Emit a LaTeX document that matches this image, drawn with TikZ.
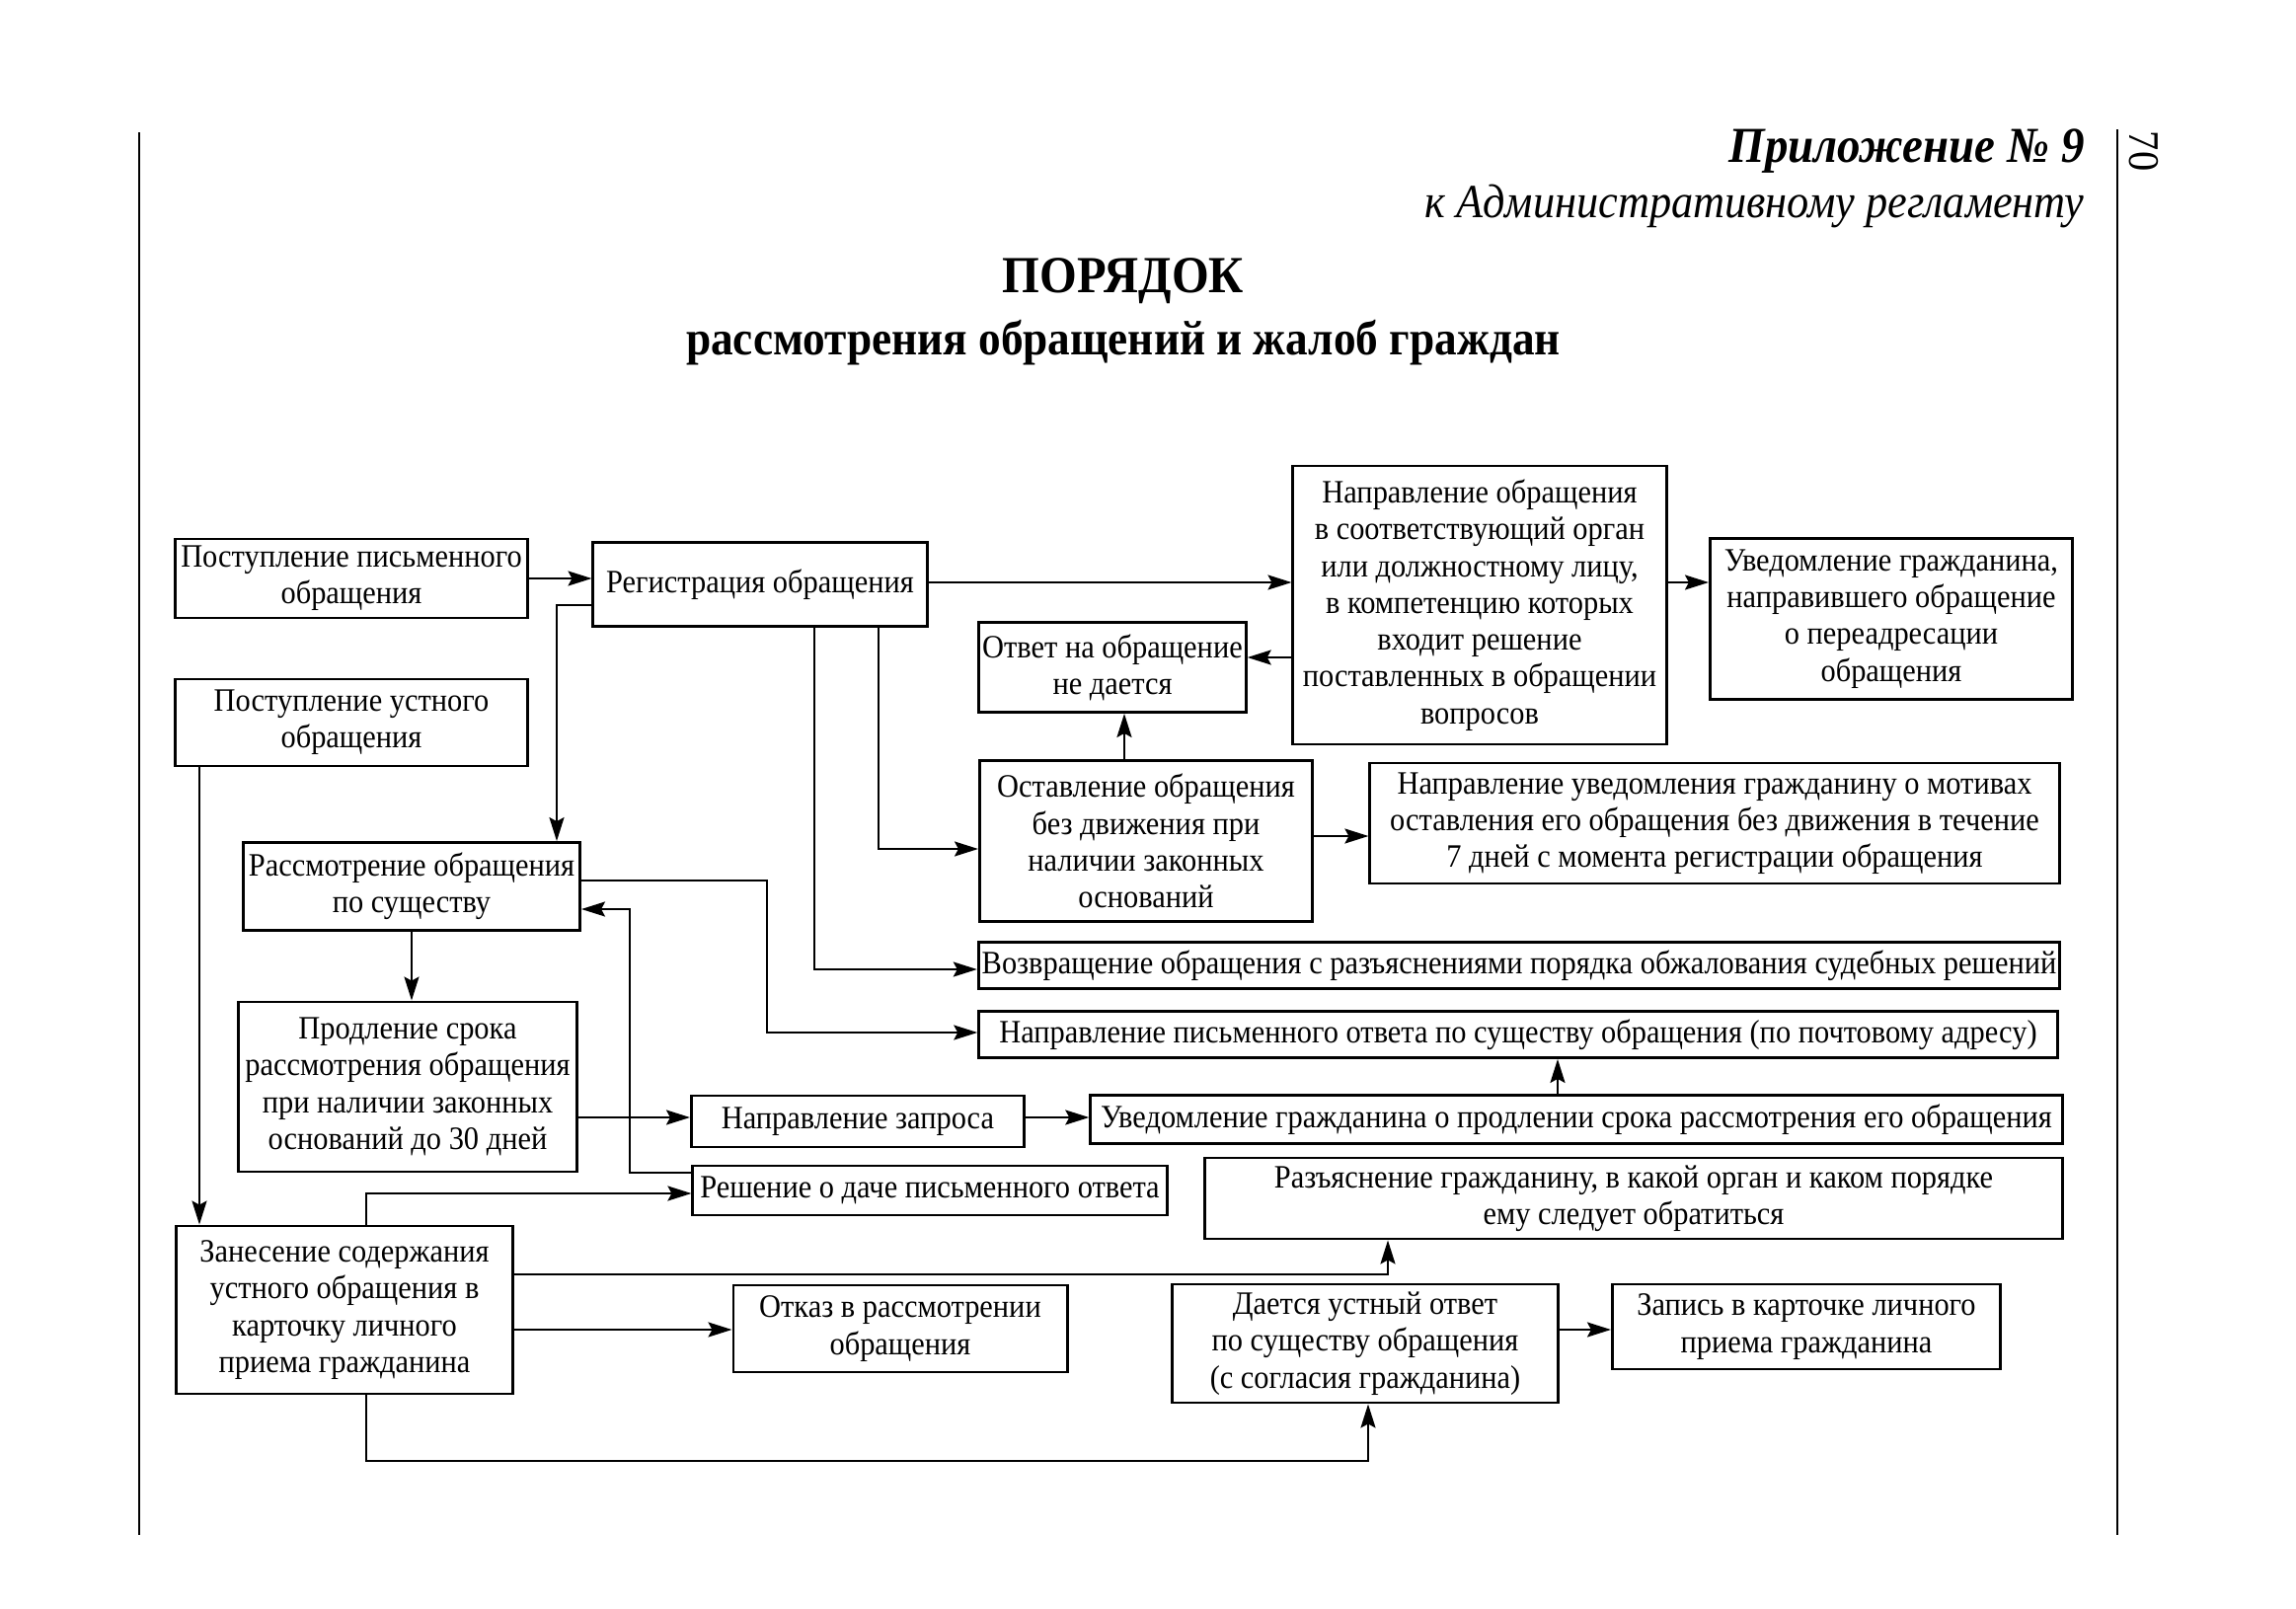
\documentclass[tikz,border=0pt]{standalone}
\usepackage{fontspec}
\setmainfont[FakeStretch=0.92]{Liberation Serif}
\usetikzlibrary{arrows.meta}

\begin{document}
\begin{tikzpicture}[x=0.01cm,y=-0.01cm,
    stage/.style ={draw, line width=0.8pt, align=center, inner sep=1pt,
                   font=\fontsize{9.4}{10.6}\selectfont},
    arr/.style ={line width=0.6pt, -{Stealth[length=2.4mm,width=1.5mm,inset=0.4mm]}}]
   \useasboundingbox (0,0) rectangle (2326,1630);
   % page frame and heading
   \draw[line width=0.6pt] (141,134) -- (141,1555);
   \draw[line width=0.6pt] (2145,131) -- (2145,1555);
   \node[rotate=-90, font=\fontsize{12.5}{12.5}\selectfont] (page) at (2172,153) {70};
   \node[anchor=east, font=\fontsize{14.5}{14.5}\selectfont\bfseries\itshape] (pril) at (2124,153) {Приложение №~9};
   \node[anchor=east, font=\fontsize{13.7}{14}\selectfont\itshape] (kadm) at (2124,209) {к Административному регламенту};
   \node[font=\fontsize{15}{15}\selectfont\bfseries] (por) at (1138,285) {ПОРЯДОК};
   \node[font=\fontsize{14}{14}\selectfont\bfseries] (rass) at (1138,347) {рассмотрения обращений и жалоб граждан};
   % boxes
   \node[stage, minimum width=3.56cm, minimum height=0.80cm] (pism) at (356,586) {Поступление письменного\\обращения};
   \node[stage, minimum width=3.38cm, minimum height=0.85cm] (reg) at (770,592) {Регистрация обращения};
   \node[stage, minimum width=3.78cm, minimum height=2.82cm] (napr) at (1499,613) {Направление обращения\\в соответствующий орган\\или должностному лицу,\\в компетенцию которых\\входит решение\\поставленных в обращении\\вопросов};
   \node[stage, minimum width=3.67cm, minimum height=1.63cm] (uved) at (1916,627) {Уведомление гражданина,\\направившего обращение\\о переадресации\\обращения};
   \node[stage, minimum width=2.70cm, minimum height=0.91cm] (otv) at (1127,676) {Ответ на обращение\\не дается};
   \node[stage, minimum width=3.56cm, minimum height=0.88cm] (ustn) at (356,732) {Поступление устного\\обращения};
   \node[stage, minimum width=3.37cm, minimum height=1.63cm] (ost) at (1161,852) {Оставление обращения\\без движения при\\наличии законных\\оснований};
   \node[stage, minimum width=6.98cm, minimum height=1.22cm] (motiv) at (1737,834) {Направление уведомления гражданину о мотивах\\оставления его обращения без движения в течение\\7 дней с момента регистрации обращения};
   \node[stage, minimum width=3.41cm, minimum height=0.89cm] (sush) at (417,898) {Рассмотрение обращения\\по существу};
   \node[stage, minimum width=10.94cm, minimum height=0.47cm] (vozv) at (1539,978) {Возвращение обращения с разъяснениями порядка обжалования судебных решений};
   \node[stage, minimum width=10.92cm, minimum height=0.47cm] (otvet) at (1538,1048) {Направление письменного ответа по существу обращения (по почтовому адресу)};
   \node[stage, minimum width=3.42cm, minimum height=1.72cm] (prodl) at (413,1101) {Продление срока\\рассмотрения обращения\\при наличии законных\\оснований до 30 дней};
   \node[stage, minimum width=3.37cm, minimum height=0.52cm] (zapr) at (869,1136) {Направление запроса};
   \node[stage, minimum width=9.84cm, minimum height=0.49cm] (uvprod) at (1597,1134) {Уведомление гражданина о продлении срока рассмотрения его обращения};
   \node[stage, minimum width=4.80cm, minimum height=0.50cm] (resh) at (942,1206) {Решение о даче письменного ответа};
   \node[stage, minimum width=8.68cm, minimum height=0.82cm] (razj) at (1655,1214) {Разъяснение гражданину, в какой орган и каком порядке\\ему следует обратиться};
   \node[stage, minimum width=3.41cm, minimum height=1.70cm] (zanes) at (349,1327) {Занесение содержания\\устного обращения в\\карточку личного\\приема гражданина};
   \node[stage, minimum width=3.38cm, minimum height=0.88cm] (otkaz) at (912,1346) {Отказ в рассмотрении\\обращения};
   \node[stage, minimum width=3.91cm, minimum height=1.20cm] (ustotv) at (1383,1361) {Дается устный ответ\\по существу обращения\\(с согласия гражданина)};
   \node[stage, minimum width=3.93cm, minimum height=0.86cm] (zapis) at (1830,1344) {Запись в карточке личного\\приема гражданина};
   % connectors
   \draw[arr] (pism.east) -- (pism.east -| reg.west);
   \draw[arr] (reg.east |- 0,590) -- (napr.west |- 0,590);
   \draw[arr] (napr.east |- 0,590) -- (uved.west |- 0,590);
   \draw[arr] (napr.west |- 0,666) -- (otv.east |- 0,666);
   \draw[arr] (ost.north -| 1139,0) -- (otv.south -| 1139,0);
   \draw[arr] (ost.east |- 0,847) -- (motiv.west |- 0,847);
   \draw[arr] (reg.west |- 0,613) -| (sush.north -| 564,0);
   \draw[arr] (reg.south -| 890,0) |- (ost.west |- 0,860);
   \draw[arr] (reg.south -| 825,0) |- (vozv.west |- 0,982);
   \draw[arr] (sush.east |- 0,892) -| (777,1046) -- (otvet.west |- 0,1046);
   \draw[arr] (resh.west |- 0,1188) -| (638,921) -- (sush.east |- 0,921);
   \draw[arr] (sush.south) -- (sush.south |- prodl.north);
   \draw[arr] (prodl.east |- 0,1132) -- (zapr.west |- 0,1132);
   \draw[arr] (zapr.east |- 0,1132) -- (uvprod.west |- 0,1132);
   \draw[arr] (uvprod.north -| 1578,0) -- (otvet.south -| 1578,0);
   \draw[arr] (ustn.south -| 202,0) -- (zanes.north -| 202,0);
   \draw[arr] (zanes.north -| 371,0) |- (resh.west |- 0,1209);
   \draw[arr] (zanes.east |- 0,1291) -| (razj.south -| 1406,0);
   \draw[arr] (zanes.east |- 0,1347) -- (otkaz.west |- 0,1347);
   \draw[arr] (zanes.south -| 371,0) -- (371,1480) -| (ustotv.south -| 1386,0);
   \draw[arr] (ustotv.east |- 0,1347) -- (zapis.west |- 0,1347);
\end{tikzpicture}
\end{document}
